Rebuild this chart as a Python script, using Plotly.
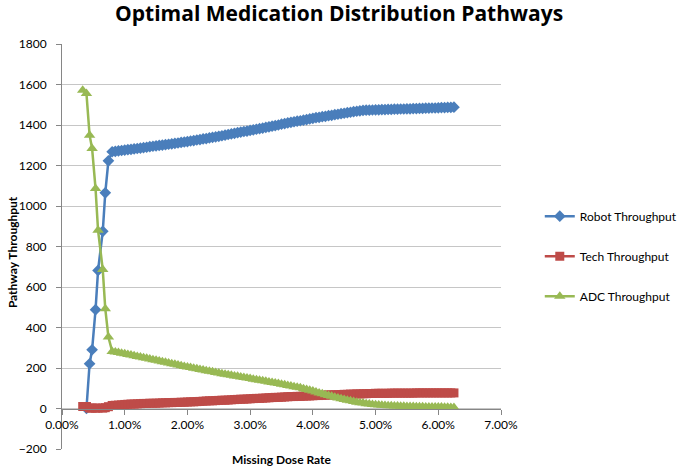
import plotly.graph_objects as go

# Missing dose rate (%)
x_early = [0.33, 0.39, 0.44, 0.48, 0.535, 0.575, 0.65, 0.69, 0.74]
x_tail = [
    0.80, 0.85, 0.90, 0.95, 1.00, 1.05, 1.10, 1.15, 1.20, 1.25,
    1.30, 1.35, 1.40, 1.45, 1.50, 1.55, 1.60, 1.65, 1.70, 1.75,
    1.80, 1.85, 1.90, 1.95, 2.00, 2.05, 2.10, 2.15, 2.20, 2.25,
    2.30, 2.35, 2.40, 2.45, 2.50, 2.55, 2.60, 2.65, 2.70, 2.75,
    2.80, 2.85, 2.90, 2.95, 3.00, 3.05, 3.10, 3.15, 3.20, 3.25,
    3.30, 3.35, 3.40, 3.45, 3.50, 3.55, 3.60, 3.65, 3.70, 3.75,
    3.80, 3.85, 3.90, 3.95, 4.00, 4.05, 4.10, 4.15, 4.20, 4.25,
    4.30, 4.35, 4.40, 4.45, 4.50, 4.55, 4.60, 4.65, 4.70, 4.75,
    4.80, 4.85, 4.90, 4.95, 5.00, 5.05, 5.10, 5.15, 5.20, 5.25,
    5.30, 5.35, 5.40, 5.45, 5.50, 5.55, 5.60, 5.65, 5.70, 5.75,
    5.80, 5.85, 5.90, 5.95, 6.00, 6.05, 6.10, 6.15, 6.20, 6.25,
]

robot_early = [None, 0, 221, 290, 488, 682, 875, 1065, 1223]
robot_tail = [
    1268, 1270, 1272, 1274, 1276, 1278, 1280, 1282, 1284, 1286,
    1288, 1290, 1293, 1295, 1297, 1299, 1301, 1303, 1305, 1307,
    1309, 1311, 1314, 1316, 1318, 1321, 1323, 1326, 1328, 1331,
    1333, 1336, 1339, 1341, 1344, 1347, 1350, 1353, 1356, 1359,
    1362, 1365, 1368, 1370, 1373, 1376, 1379, 1382, 1385, 1388,
    1391, 1394, 1397, 1400, 1404, 1407, 1410, 1413, 1416, 1419,
    1421, 1424, 1427, 1430, 1433, 1436, 1438, 1441, 1443, 1446,
    1448, 1451, 1453, 1456, 1458, 1461, 1463, 1466, 1468, 1470,
    1472, 1473, 1473, 1474, 1475, 1475, 1476, 1476, 1477, 1477,
    1478, 1478, 1479, 1479, 1480, 1480, 1481, 1481, 1482, 1482,
    1483, 1483, 1484, 1484, 1485, 1486, 1486, 1487, 1487, 1488,
]

tech_early = [10, 10, 2, 2, 2, 2, 2, 4, 9]
tech_tail = [
    15, 16, 17, 18, 20, 21, 22, 22, 23, 24,
    25, 25, 26, 26, 26, 27, 28, 28, 29, 29,
    30, 30, 31, 31, 32, 33, 33, 34, 35, 36,
    37, 38, 38, 39, 40, 41, 41, 42, 43, 44,
    45, 46, 46, 47, 48, 49, 50, 50, 51, 52,
    53, 54, 55, 55, 56, 57, 58, 59, 59, 60,
    60, 61, 62, 62, 63, 64, 64, 65, 66, 67,
    67, 68, 68, 69, 70, 70, 71, 71, 72, 72,
    73, 73, 74, 74, 75, 75, 75, 75, 75, 76,
    76, 76, 76, 76, 76, 76, 76, 77, 77, 77,
    77, 77, 77, 77, 77, 77, 77, 77, 77, 77,
]

adc_early = [1572, 1555, 1350, 1284, 1086, 880, 686, 493, 353]
adc_tail = [
    282, 279, 276, 273, 270, 267, 264, 261, 257, 254,
    251, 248, 245, 241, 238, 235, 231, 228, 225, 221,
    218, 215, 211, 208, 205, 202, 199, 196, 193, 190,
    187, 184, 181, 178, 175, 172, 169, 167, 164, 161,
    159, 156, 153, 151, 148, 145, 142, 140, 137, 134,
    131, 128, 126, 123, 120, 117, 114, 111, 108, 105,
    102, 98, 94, 90, 86, 82, 77, 73, 68, 64,
    60, 56, 52, 48, 45, 41, 38, 34, 31, 29,
    27, 24, 22, 20, 18, 17, 16, 15, 14, 13,
    12, 12, 11, 11, 10, 10, 10, 9, 9, 9,
    8, 8, 8, 7, 7, 7, 6, 6, 5, 5,
]

x_ticks = [0, 1, 2, 3, 4, 5, 6, 7]
x_tick_labels = ["0.00%", "1.00%", "2.00%", "3.00%", "4.00%", "5.00%", "6.00%", "7.00%"]
y_ticks = [-200, 0, 200, 400, 600, 800, 1000, 1200, 1400, 1600, 1800]

x_all = x_early + x_tail
series = [
    ("Robot Throughput", robot_early + robot_tail, "#4A7EBB", "diamond", 9),
    ("Tech Throughput", tech_early + tech_tail, "#BE4B48", "square", 9),
    ("ADC Throughput", adc_early + adc_tail, "#98B954", "triangle-up", 10),
]

FONT = "Lato, 'Liberation Sans', sans-serif"
TITLE_FONT = "'Open Sans', Lato, sans-serif"

fig = go.Figure()
for i, (name, ys, color, sym, size) in enumerate(series):
    fig.add_trace(go.Scatter(
        x=x_all, y=ys, name=name, mode="lines+markers",
        line=dict(color=color, width=2.5),
        marker=dict(symbol=sym, size=size, color=color),
        legendgroup=str(i),
    ))

fig.update_layout(
    width=685, height=470,
    margin=dict(l=62, r=184, t=44, b=21, autoexpand=False),
    paper_bgcolor="white", plot_bgcolor="white",
    font=dict(family=FONT, size=12, color="#000000"),
    title=dict(text="<b>Optimal Medication Distribution Pathways</b>",
               x=0.495, xanchor="center", y=0.970, yanchor="middle",
               font=dict(family=TITLE_FONT, size=21, color="#000000")),
    showlegend=True,
    legend=dict(xref="container", x=0.788, xanchor="left",
                y=0.476, yanchor="middle",
                traceorder="grouped", tracegroupgap=21,
                font=dict(family=FONT, size=12, color="#000000"),
                bgcolor="rgba(0,0,0,0)"),
    xaxis=dict(range=[0, 7], tickvals=x_ticks, ticktext=x_tick_labels,
               showgrid=False, zeroline=False, showline=True,
               linecolor="#868686", linewidth=1,
               ticks="outside", ticklen=5, tickcolor="#868686",
               anchor="free", position=0.1, automargin=False,
               tickfont=dict(family=FONT, size=12, color="#000000")),
    yaxis=dict(range=[-200, 1800], tickvals=y_ticks,
               showgrid=True, gridcolor="#C6C6C6", gridwidth=1,
               zeroline=False, showline=True, linecolor="#868686", linewidth=1,
               ticks="outside", ticklen=5, tickcolor="#868686",
               ticklabelstandoff=7, automargin=False,
               tickfont=dict(family=FONT, size=12, color="#000000")),
    annotations=[
        dict(text="<b>Missing Dose Rate</b>", xref="paper", yref="paper",
             x=0.5, y=-0.027, xanchor="center", yanchor="middle",
             showarrow=False, font=dict(family=FONT, size=12, color="#000000")),
        dict(text="<b>Pathway Throughput</b>", xref="paper", yref="paper",
             x=-0.114, y=0.486, xanchor="center", yanchor="middle", textangle=-90,
             showarrow=False, font=dict(family=FONT, size=12, color="#000000")),
    ],
)

fig.write_html("out.html", config={"displayModeBar": False},
               post_script="document.body.style.margin='0';")
